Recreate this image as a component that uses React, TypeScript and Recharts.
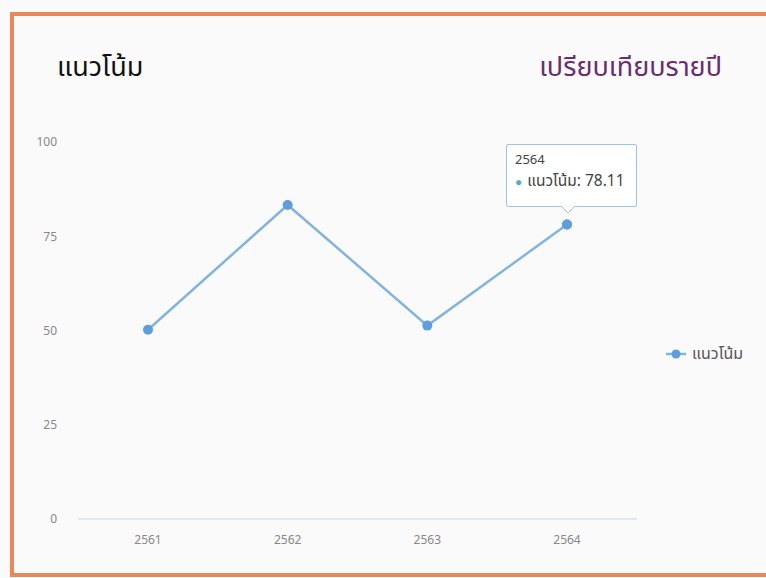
import { LineChart, Line, XAxis, YAxis, Tooltip, Legend } from "recharts"

const years = ["2561", "2562", "2563", "2564"]
const trend = [50.2, 83.3, 51.3, 78.11]
const yTicks = [0, 25, 50, 75, 100]
const seriesName = "แนวโน้ม"

const data = years.map((y, i) => ({ year: y, value: trend[i] }))

const FONT = '"Noto Sans Thai", "Noto Sans", "Open Sans", sans-serif'
const LINE = "#82b4e0"
const DOT = "#5e9fdb"

function TipBox({ active, payload, label }: any) {
  if (!active || !payload || !payload.length) return null
  return (
    <div style={{ position: "relative", width: 131, height: 63, fontFamily: FONT }}>
      <div
        style={{
          position: "absolute",
          inset: 0,
          background: "#fff",
          border: "1px solid #9cc4e8",
          borderRadius: 2,
          boxSizing: "border-box",
          padding: "7px 8px",
          color: "#444",
        }}
      >
        <div style={{ fontSize: 13, lineHeight: "17px" }}>{label}</div>
        <div style={{ fontSize: 15.5, lineHeight: "22px", marginTop: 2, whiteSpace: "nowrap" }}>
          <span style={{ color: DOT, marginRight: 5, fontSize: 12 }}>●</span>
          {payload[0].name}: {payload[0].value}
        </div>
      </div>
      <svg width={14} height={8} style={{ position: "absolute", left: 55, top: 62 }}>
        <path d="M0,0 L7,7 L14,0" fill="#fff" stroke="#9cc4e8" strokeWidth={1} />
      </svg>
    </div>
  )
}

function LegendBox({ payload }: any) {
  return (
    <div style={{ display: "flex", alignItems: "center", fontFamily: FONT, fontSize: 16, color: "#555" }}>
      {(payload || []).map((p: any) => (
        <div key={p.value} style={{ display: "flex", alignItems: "center", whiteSpace: "nowrap" }}>
          <svg width={20} height={12} style={{ marginRight: 6 }}>
            <line x1={0} y1={6} x2={20} y2={6} stroke={LINE} strokeWidth={2.5} />
            <circle cx={10} cy={6} r={4.5} fill={DOT} />
          </svg>
          {p.value}
        </div>
      ))}
    </div>
  )
}

export default function App() {
  return (
    <div style={{ position: "fixed", left: 0, top: 0, width: 766, height: 578, background: "#fafafa", overflow: "hidden" }}>
      <div
        style={{
          position: "absolute",
          left: 10,
          top: 12,
          width: 820,
          height: 565,
          border: "4px solid #e8895a",
          boxSizing: "border-box",
        }}
      />
      <div style={{ position: "absolute", left: 57, top: 47, fontFamily: FONT, fontSize: 27, color: "#111" }}>
        {seriesName}
      </div>
      <div style={{ position: "absolute", right: 44, top: 47, fontFamily: FONT, fontSize: 27, color: "#6b2c6e" }}>
        เปรียบเทียบรายปี
      </div>
      <div style={{ position: "absolute", left: 0, top: 0 }}>
        <LineChart width={766} height={578} data={data} margin={{ top: 142, right: 29, bottom: 29, left: 18 }}>
          <XAxis
            dataKey="year"
            tickLine={false}
            axisLine={{ stroke: "#cdd6e4" }}
            tick={{ fill: "#888", fontSize: 12, fontFamily: FONT }}
            tickMargin={10}
            padding={{ left: 70, right: 70 }}
          />
          <YAxis
            width={60}
            domain={[0, 100]}
            ticks={yTicks}
            tickLine={false}
            axisLine={false}
            tick={{ fill: "#888", fontSize: 12, fontFamily: FONT }}
            tickMargin={15}
          />
          <Tooltip
            active
            defaultIndex={3}
            cursor={false}
            content={<TipBox />}
            position={{ x: 506, y: 144 }}
            wrapperStyle={{ outline: "none" }}
          />
          <Legend
            layout="vertical"
            align="right"
            verticalAlign="middle"
            width={100}
            content={<LegendBox />}
            wrapperStyle={{ top: 342, left: 666 }}
          />
          <Line
            type="linear"
            dataKey="value"
            name={seriesName}
            stroke={LINE}
            strokeWidth={2.5}
            dot={{ r: 5, fill: DOT, stroke: "none" }}
            activeDot={{ r: 5, fill: DOT, stroke: "none" }}
            isAnimationActive={false}
          />
        </LineChart>
      </div>
    </div>
  )
}
